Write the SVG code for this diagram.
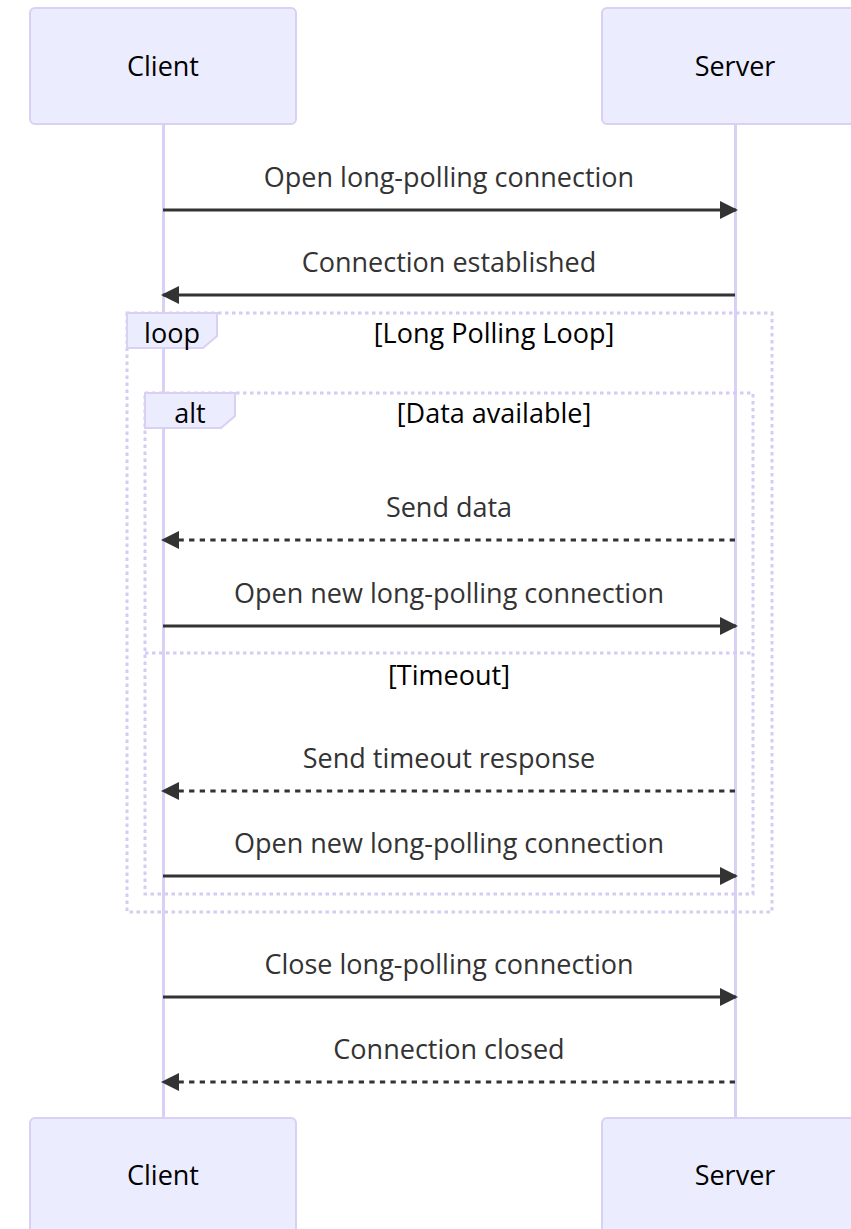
<svg xmlns="http://www.w3.org/2000/svg" width="851" height="1229" viewBox="0 0 851 1229">
<style>
.actor{fill:#ECECFF;stroke:#D9D0F3;stroke-width:2}
.atext{font-family:"Open Sans","Liberation Sans",sans-serif;font-size:27px;fill:#000;text-anchor:middle}
.life{stroke:#DAD0F5;stroke-width:3}
.msg{stroke:#333;stroke-width:2.8;fill:none}
.dash{stroke-dasharray:5.3,5.3}
.mtext{font-family:"Open Sans","Liberation Sans",sans-serif;font-size:27px;fill:#333;text-anchor:middle}
.frame{fill:none;stroke:#D6CCF3;stroke-width:3;stroke-dasharray:3.5,3.5}
.lbox{fill:#ECECFF;stroke:#D9D0F3;stroke-width:2}
.ltext{font-family:"Open Sans","Liberation Sans",sans-serif;font-size:27px;fill:#000;text-anchor:middle}
</style>
<defs>
<marker id="arrow" markerUnits="userSpaceOnUse" markerWidth="20" markerHeight="20" refX="16" refY="9" orient="auto">
<path d="M0,0 L18,9 L0,18 z" fill="#333"/>
</marker>
</defs>
<g id="lifelines">
<line class="life" x1="163.5" y1="124" x2="163.5" y2="1118"/>
<line class="life" x1="735.5" y1="124" x2="735.5" y2="1118"/>
</g>
<g id="actor-client-top"><rect class="actor" x="30" y="8" width="266" height="116" rx="5"/><text class="atext" x="163" y="76">Client</text></g>
<g id="actor-server-top"><rect class="actor" x="602" y="8" width="266" height="116" rx="5"/><text class="atext" x="735" y="76">Server</text></g>
<g id="actor-client-bottom"><rect class="actor" x="30" y="1118" width="266" height="116" rx="5"/><text class="atext" x="163" y="1185">Client</text></g>
<g id="actor-server-bottom"><rect class="actor" x="602" y="1118" width="266" height="116" rx="5"/><text class="atext" x="735" y="1185">Server</text></g>
<g id="loop">
<rect class="frame" x="127" y="313" width="645" height="599"/>
<polygon class="lbox" points="127,313 217,313 217,336 203,348 127,348"/>
<text class="ltext" x="172" y="343">loop</text>
<text class="ltext" x="494" y="343">[Long Polling Loop]</text>
</g>
<g id="alt">
<rect class="frame" x="145" y="393" width="608" height="501"/>
<polygon class="lbox" points="145,393 235,393 235,416 221,428 145,428"/>
<text class="ltext" x="190" y="423">alt</text>
<text class="ltext" x="494" y="423">[Data available]</text>
<line class="frame" x1="145" y1="653" x2="753" y2="653"/>
<text class="ltext" x="449" y="685">[Timeout]</text>
</g>
<g id="messages">
<text class="mtext" x="449" y="187">Open long-polling connection</text>
<line class="msg" x1="163" y1="210" x2="736" y2="210" marker-end="url(#arrow)"/>
<text class="mtext" x="449" y="272">Connection established</text>
<line class="msg" x1="735" y1="295" x2="163" y2="295" marker-end="url(#arrow)"/>
<text class="mtext" x="449" y="517">Send data</text>
<line class="msg dash" x1="735" y1="540" x2="163" y2="540" marker-end="url(#arrow)"/>
<text class="mtext" x="449" y="603">Open new long-polling connection</text>
<line class="msg" x1="163" y1="626" x2="736" y2="626" marker-end="url(#arrow)"/>
<text class="mtext" x="449" y="768">Send timeout response</text>
<line class="msg dash" x1="735" y1="791" x2="163" y2="791" marker-end="url(#arrow)"/>
<text class="mtext" x="449" y="853">Open new long-polling connection</text>
<line class="msg" x1="163" y1="876" x2="736" y2="876" marker-end="url(#arrow)"/>
<text class="mtext" x="449" y="974">Close long-polling connection</text>
<line class="msg" x1="163" y1="997" x2="736" y2="997" marker-end="url(#arrow)"/>
<text class="mtext" x="449" y="1059">Connection closed</text>
<line class="msg dash" x1="735" y1="1082" x2="163" y2="1082" marker-end="url(#arrow)"/>
</g>
</svg>
